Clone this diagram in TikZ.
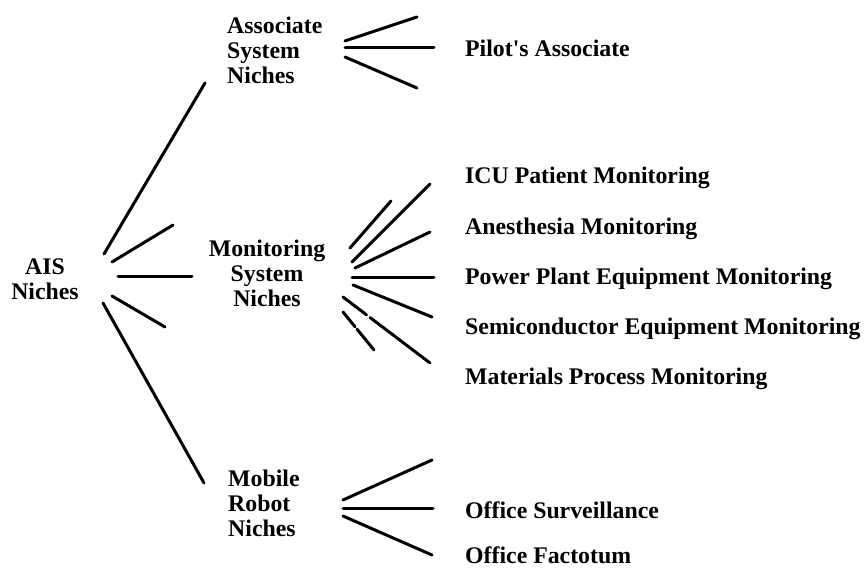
\documentclass[tikz,border=0pt]{standalone}
\usepackage{fontspec}
\setmainfont{Liberation Serif}
\usetikzlibrary{calc}
\tikzset{
  lbl/.style={inner sep=0pt, font=\fontsize{23.8}{25}\selectfont\bfseries},
  leaf/.style={lbl, anchor=west},
  ln/.style={line width=3pt, line cap=round},
}
\begin{document}
\begin{tikzpicture}[x=1pt,y=-1pt]
\useasboundingbox (0,0) rectangle (865,569);
% category labels
\node[lbl, align=center] (ais) at (45,279) {AIS\\Niches};
\node[lbl, align=left, anchor=west] (assoc) at (227,50) {Associate\\System\\Niches};
\node[lbl, align=center] (mon) at (267,273) {Monitoring\\System\\Niches};
\node[lbl, align=left, anchor=west] (mob) at (228,503) {Mobile\\Robot\\Niches};
% leaves
\node[leaf] (pilot) at (465,48) {Pilot\textquotesingle s Associate};
\node[leaf] (icu) at (465,178) {ICU Patient Monitoring};
\node[leaf] (anes) at (465,229) {Anesthesia Monitoring};
\node[leaf] (power) at (465,279) {Power Plant Equipment Monitoring};
\node[leaf] (semi) at (465,329) {Semiconductor Equipment Monitoring};
\node[leaf] (mat) at (465,379) {Materials Process Monitoring};
\node[leaf] (surv) at (465,510) {Office Surveillance};
\node[leaf] (fact) at (465,555) {Office Factotum};
% AIS fan coordinates
\coordinate (a1s) at (104,254); \coordinate (a1e) at (205,83);
\coordinate (a2s) at (112,262); \coordinate (a2e) at (173,225);
\coordinate (a3s) at (118,277); \coordinate (a3e) at (192,277);
\coordinate (a4s) at (112,296); \coordinate (a4e) at (165,327);
\coordinate (a5s) at (103,303); \coordinate (a5e) at (204,483);
% Associate fan
\coordinate (s1s) at (345,41); \coordinate (s1e) at (417,17);
\coordinate (s2s) at (345,48); \coordinate (s2e) at (434,48);
\coordinate (s3s) at (345,57); \coordinate (s3e) at (417,88);
% Monitoring fan
\coordinate (m1s) at (350,248); \coordinate (m1e) at (391,201);
\coordinate (m2s) at (352,262); \coordinate (m2e) at (430,184);
\coordinate (m3s) at (355,268); \coordinate (m3e) at (430,232);
\coordinate (m4s) at (352,278); \coordinate (m4e) at (434,278);
\coordinate (m5s) at (353,285); \coordinate (m5e) at (432,317);
\coordinate (m6s) at (343,297); \coordinate (m6e) at (430,363);
\coordinate (m7s) at (343,312); \coordinate (m7e) at (374,350);
% Mobile fan
\coordinate (r1s) at (343,500); \coordinate (r1e) at (432,460);
\coordinate (r2s) at (343,508); \coordinate (r2e) at (433,508);
\coordinate (r3s) at (343,516); \coordinate (r3e) at (432,555);
% draw lines
\foreach \p in {a1,a2,a3,a4,a5,s1,s2,s3,m1,m2,m3,m4,m5,r1,r2,r3}
  \draw[ln] (\p s) -- (\p e);
\draw[ln] (m6s) -- ($(m6s)!0.27!(m6e)$);
\draw[ln] ($(m6s)!0.31!(m6e)$) -- (m6e);
\draw[ln] (m7s) -- ($(m7s)!0.39!(m7e)$);
\draw[ln] ($(m7s)!0.45!(m7e)$) -- (m7e);
\end{tikzpicture}
\end{document}
